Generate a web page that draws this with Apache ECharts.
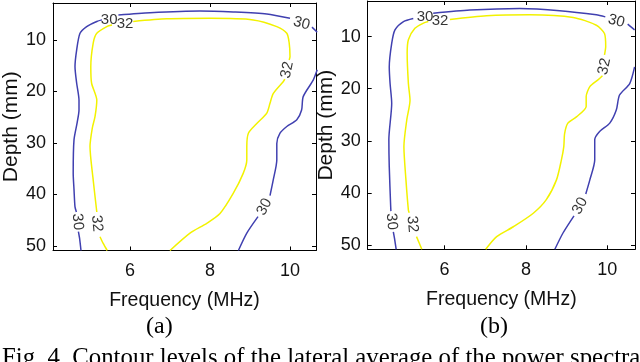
<!DOCTYPE html>
<html><head><meta charset="utf-8">
<script src="https://cdn.jsdelivr.net/npm/echarts@6/dist/echarts.min.js"></script>
<style>html,body{margin:0;padding:0;background:#fff}#c{width:640px;height:362px}</style>
</head><body><div id="c"></div>
<script>
// ---- data ----
const xTicks = [6, 8, 10];
const yTicks = [10, 20, 30, 40, 50];
const xName = 'Frequency (MHz)';
const yName = 'Depth (mm)';
const panelCaptions = ['(a)', '(b)'];
const figCaption = 'Fig. 4. Contour levels of the lateral average of the power spectra';

// panel (a) contour level 30 (segments broken at labels)
const a30 = [
  [[4.775,50.87],[4.74,48.5],[4.71,47.2]],
  [[4.66,43.4],[4.625,42.4],[4.6,39.0],[4.58,35.9],[4.6,29.4],[4.68,26.0],[4.725,23.6],[4.725,21.7],[4.667,18.4],[4.625,15.2],[4.667,11.9],[4.75,8.7],[4.917,7.4],[5.17,6.4],[5.3,6.1]],
  [[5.71,5.15],[6.5,4.7],[7.75,4.37],[8.58,4.56],[9.42,4.95],[10.0,5.8]],
  [[10.55,7.5],[10.68,8.5]],
  [[10.68,15.8],[10.58,17.8],[10.33,21.0],[10.29,23.6],[10.17,25.5],[9.92,26.8],[9.75,28.1],[9.67,30.1],[9.67,33.3],[9.58,37.2],[9.5,40.2]],
  [[9.2,44.3],[8.92,47.5],[8.71,50.87]]
];
// panel (a) contour level 32
const a32 = [
  [[5.43,50.87],[5.33,49.5],[5.25,48.2]],
  [[5.17,43.4],[5.08,37.2],[5.0,30.7],[5.06,27.0],[5.125,24.9],[5.17,21.7],[5.04,18.4],[5.02,15.2],[5.08,10.6],[5.17,8.7],[5.42,7.4],[5.55,7.1]],
  [[6.08,6.4],[6.92,5.9],[8.0,5.8],[9.08,6.1],[9.67,7.4],[9.92,8.7],[9.98,10.6],[10.0,13.2],[9.98,13.9]],
  [[9.87,17.6],[9.83,18.1],[9.58,20.4],[9.5,22.3],[9.42,24.2],[9.17,26.2],[8.96,28.1],[8.92,30.7],[8.92,33.3],[8.83,35.9],[8.58,39.8],[8.25,43.7],[7.92,45.6],[7.5,47.5],[7.0,50.87]]
];
// panel (a) contour labels [x, y, text]
const aLabels = [[4.69,45.3,'30'],[5.48,6.0,'30'],[10.29,6.8,'30'],[9.36,42.4,'30'],[5.17,45.6,'32'],[5.875,6.9,'32'],[9.93,15.8,'32']];
const aLabelAngles = [-85, 0, -15, 62, -85, 0, 78];

// panel (b) contour level 30
const b30 = [
  [[4.81,50.83],[4.77,48.8],[4.74,47.5]],
  [[4.68,43.5],[4.675,42.6],[4.64,35.0],[4.63,29.8],[4.7,22.8],[4.66,19.0],[4.64,15.8],[4.7,11.3],[4.78,8.7],[4.99,7.1],[5.23,6.5]],
  [[5.72,5.5],[6.62,4.9],[7.85,4.6],[8.83,5.0],[9.73,5.8],[9.95,6.2]],
  [[10.5,7.6],[10.67,8.7]],
  [[10.67,15.8],[10.55,19.0],[10.3,21.2],[10.22,24.1],[10.06,26.6],[9.81,28.2],[9.69,29.8],[9.69,33.7],[9.57,37.5],[9.47,40.2]],
  [[9.18,44.4],[8.91,47.7],[8.71,50.83]]
];
// panel (b) contour level 32
const b32 = [
  [[5.44,50.83],[5.31,48.4]],
  [[5.13,43.8],[5.11,43.3],[5.05,37.5],[5.0,31.1],[5.07,26.0],[5.15,22.2],[5.11,19.0],[5.08,13.2],[5.11,10.6],[5.27,8.4],[5.48,7.4],[5.6,7.1]],
  [[6.13,6.7],[7.03,6.0],[8.09,5.8],[9.16,6.3],[9.73,7.8],[9.93,9.4],[9.96,11.9],[9.93,13.5]],
  [[9.88,17.5],[9.77,18.3],[9.57,19.6],[9.48,21.5],[9.48,23.4],[9.24,25.4],[9.03,26.6],[8.95,28.6],[8.93,31.1],[8.87,33.7],[8.75,37.5],[8.5,41.3],[8.18,43.9],[7.69,46.5],[7.28,48.4],[7.01,50.83]]
];
const bLabels = [[4.7,45.5,'30'],[5.52,6.1,'30'],[10.22,7.0,'30'],[9.33,42.5,'30'],[5.21,46.0,'32'],[5.89,6.9,'32'],[9.93,15.7,'32']];
const bLabelAngles = [-85, 0, -15, 62, -85, 0, 78];

// axis ranges per panel
const xRange = [[4.075, 10.65], [4.11, 10.68]];
const yRange = [[2.82, 50.87], [3.15, 50.83]];

// ---- chart ----
const BLUE = '#4040b0', YELLOW = '#f2f200';
const SANS = 'Liberation Sans, Arial, sans-serif';
const SERIF = 'Liberation Serif, Times New Roman, serif';
const TXT = '#111';
const grids = [
  {left: 53, top: 3, width: 263, height: 247.5, outerBoundsMode: 'none', containLabel: false},
  {left: 367.7, top: 1, width: 267.3, height: 248.3, outerBoundsMode: 'none', containLabel: false}
];
const xAxes = [], yAxes = [], series = [];
const axLine = {onZero: false, lineStyle: {color: '#000', width: 1}};
grids.forEach((g, i) => {
  const base = {gridIndex: i, type: 'value', min: xRange[i][0], max: xRange[i][1], splitLine: {show: false}, axisLine: axLine,
    axisTick: {inside: true, length: 4, customValues: xTicks, lineStyle: {color: '#000'}}};
  xAxes.push(Object.assign({}, base, {position: 'bottom',
    axisLabel: {customValues: xTicks, fontSize: 18, color: TXT, margin: 12, fontFamily: SANS},
    name: xName, nameLocation: 'middle', nameGap: 40, nameTextStyle: {fontSize: 19.5, color: TXT, fontFamily: SANS}}));
  xAxes.push(Object.assign({}, base, {position: 'top', axisLabel: {show: false}}));
  const ybase = {gridIndex: i, type: 'value', inverse: true, min: yRange[i][0], max: yRange[i][1], splitLine: {show: false}, axisLine: axLine,
    axisTick: {inside: true, length: 4, customValues: yTicks, lineStyle: {color: '#000'}}};
  yAxes.push(Object.assign({}, ybase, {position: 'left',
    axisLabel: {customValues: yTicks, fontSize: 18, color: TXT, margin: 7, fontFamily: SANS},
    name: yName, nameLocation: 'middle', nameGap: 30, nameTextStyle: {fontSize: 21, color: TXT, fontFamily: SANS}}));
  yAxes.push(Object.assign({}, ybase, {position: 'right', axisLabel: {show: false}}));
});
function addContours(segs, color, idx) {
  segs.forEach(s => series.push({type: 'line', xAxisIndex: idx * 2, yAxisIndex: idx * 2, data: s, showSymbol: false, symbol: 'none',
    smooth: 0.25, lineStyle: {color: color, width: 1.5}, silent: true, z: 2}));
}
function addLabels(lbls, angles, idx) {
  series.push({type: 'scatter', xAxisIndex: idx * 2, yAxisIndex: idx * 2, symbolSize: 1, itemStyle: {color: 'rgba(0,0,0,0)'}, silent: true, z: 3,
    data: lbls.map((l, k) => ({value: [l[0], l[1]], name: l[2], label: {rotate: angles[k]}})),
    label: {show: true, position: 'inside', formatter: '{b}', fontSize: 15, color: '#000', fontFamily: SANS}});
}
addContours(a30, BLUE, 0); addContours(a32, YELLOW, 0); addLabels(aLabels, aLabelAngles, 0);
addContours(b30, BLUE, 1); addContours(b32, YELLOW, 1); addLabels(bLabels, bLabelAngles, 1);

const chart = echarts.init(document.getElementById('c'), null, {renderer: 'canvas'});
chart.setOption({
  animation: false,
  backgroundColor: '#fff',
  grid: grids, xAxis: xAxes, yAxis: yAxes, series: series,
  graphic: [
    {type: 'text', left: 160 - 14, top: 315, style: {text: panelCaptions[0], font: '24px ' + SERIF, fill: '#000'}},
    {type: 'text', left: 494 - 14, top: 315, style: {text: panelCaptions[1], font: '24px ' + SERIF, fill: '#000'}},
    {type: 'text', left: 2, top: 346, style: {text: figCaption, font: '24.8px ' + SERIF, fill: '#000'}}
  ]
});
</script>
</body></html>
